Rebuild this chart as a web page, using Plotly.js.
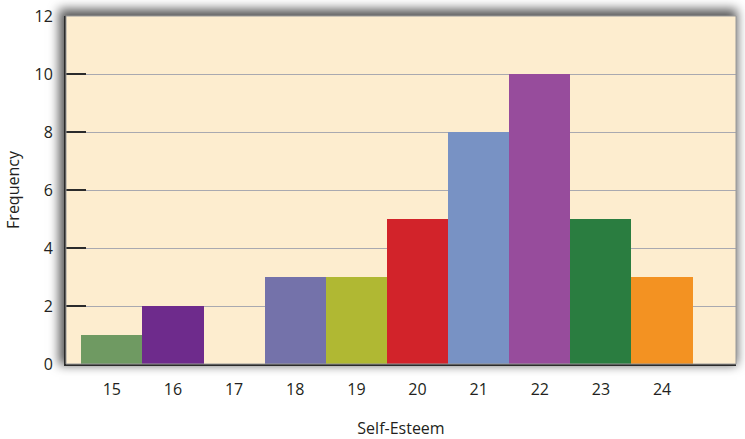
<!DOCTYPE html>
<html>
<head>
<meta charset="utf-8">
<script src="https://cdn.plot.ly/plotly-3.0.1.min.js"></script>
<style>
  body { margin:0; background:#ffffff; }
  #wrap { position:relative; width:745px; height:439px; }
  #shadow { position:absolute; left:66px; top:16px; width:670px; height:348px;
            box-shadow: -3px -3px 10px 4px rgba(0,0,0,0.65); z-index:0; }
  #chart { position:absolute; left:0; top:0; width:745px; height:439px; z-index:1; }
</style>
</head>
<body>
<div id="wrap">
  <div id="shadow"></div>
  <div id="chart"></div>
</div>
<script>
const categories = [15, 16, 17, 18, 19, 20, 21, 22, 23, 24];
const frequencies = [1, 2, 0, 3, 3, 5, 8, 10, 5, 3];
const barColors = ['#6f9a62', '#6e2b8c', '#7472aa', '#7472aa', '#b0b833', '#d2232a', '#7892c4', '#974c9c', '#2a7d40', '#f39222'];
const yTicks = [0, 2, 4, 6, 8, 10, 12];

const trace = {
  type: 'bar',
  x: categories,
  y: frequencies,
  marker: { color: barColors, line: { width: 0 } },
  width: 1,
  hoverinfo: 'x+y'
};

const layout = {
  width: 745, height: 439,
  margin: { l: 66, r: 9, t: 16, b: 75 },
  paper_bgcolor: 'rgba(0,0,0,0)',
  plot_bgcolor: '#fdedcf',
  bargap: 0,
  showlegend: false,
  font: { family: '"Open Sans", sans-serif', color: '#231f20' },
  xaxis: {
    range: [14.25, 25.21],
    tickmode: 'array',
    tickvals: categories,
    ticktext: categories.map(String),
    ticks: '',
    showgrid: false,
    zeroline: false,
    showline: true, linecolor: '#2b2b2b', linewidth: 2,
    tickfont: { size: 16 },
    ticklabelstandoff: 10,
    title: { text: 'Self-Esteem', font: { size: 16 }, standoff: 27 }
  },
  yaxis: {
    range: [0, 12],
    tickmode: 'array',
    tickvals: yTicks,
    ticks: 'inside', ticklen: 20, tickwidth: 1.5, tickcolor: '#2b2b2b',
    showgrid: true, gridcolor: '#a9a9b0', gridwidth: 1,
    zeroline: false,
    showline: true, linecolor: '#2b2b2b', linewidth: 2,
    tickfont: { size: 16 },
    ticklabelstandoff: 8,
    title: { text: 'Frequency', font: { size: 16 }, standoff: 11 }
  },
  shapes: [
    { type: 'rect', xref: 'paper', yref: 'paper', x0: 0, x1: 1, y0: 0, y1: 1,
      line: { color: '#9a9a9a', width: 1 }, layer: 'above' }
  ]
};

Plotly.newPlot('chart', [trace], layout, { displayModeBar: false, staticPlot: true });
</script>
</body>
</html>
